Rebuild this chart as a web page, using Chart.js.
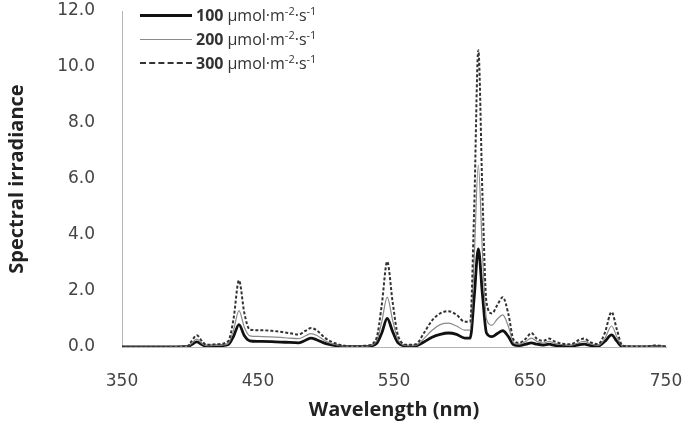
<!DOCTYPE html>
<html>
<head>
<meta charset="utf-8">
<script src="https://cdn.jsdelivr.net/npm/chart.js@4.4.1/dist/chart.umd.min.js"></script>
<style>
  html, body { margin: 0; padding: 0; background: #fff; }
  #wrap { position: relative; width: 692px; height: 426px; }
  #legend { position: absolute; left: 140px; top: 3px; font-family: "Open Sans", sans-serif; color: #333; }
  .row { display: flex; align-items: center; height: 24px; }
  .swatch { width: 52px; height: 0; margin-right: 4px; }
  .row b { font-size: 16px; margin-right: 4px; }
  .row span.unit { font-size: 16px; }
  .row sup { font-size: 11px; }
</style>
</head>
<body>
<div id="wrap">
  <canvas id="spectrum" width="692" height="426"></canvas>
  <div id="legend"></div>
</div>
<script>
(function () {
  "use strict";

  // wavelength samples (nm)
  const wavelengths = [350, 360, 380, 398, 401, 405, 409, 412, 420, 428, 432, 436, 440, 444, 450, 460, 470, 480, 485, 489, 493, 500, 510, 520, 530, 537, 541, 545, 549, 553, 560, 566, 572, 578, 584, 590, 596, 602, 606, 609, 612, 615, 618, 622, 626, 630, 634, 638, 642, 647, 651, 655, 660, 664, 668, 674, 680, 686, 690, 694, 700, 705, 710, 714, 718, 725, 735, 743, 750];

  const irr100 = [0, 0, 0, 0.01, 0.08, 0.18, 0.08, 0.03, 0.04, 0.08, 0.38, 0.8, 0.4, 0.22, 0.2, 0.19, 0.17, 0.15, 0.24, 0.32, 0.26, 0.12, 0.03, 0.01, 0.02, 0.12, 0.5, 1.02, 0.55, 0.15, 0.03, 0.04, 0.18, 0.35, 0.45, 0.5, 0.45, 0.32, 0.32, 1.8, 3.5, 1.9, 0.5, 0.37, 0.48, 0.58, 0.38, 0.08, 0.05, 0.1, 0.15, 0.1, 0.07, 0.1, 0.06, 0.04, 0.03, 0.08, 0.1, 0.06, 0.03, 0.2, 0.43, 0.2, 0.01, 0, 0, 0.02, 0];

  const irr200 = [0, 0, 0, 0.01, 0.12, 0.28, 0.12, 0.05, 0.06, 0.12, 0.6, 1.3, 0.7, 0.4, 0.38, 0.36, 0.33, 0.3, 0.4, 0.48, 0.42, 0.2, 0.05, 0.02, 0.03, 0.2, 0.9, 1.78, 0.95, 0.25, 0.05, 0.06, 0.3, 0.6, 0.8, 0.85, 0.75, 0.6, 0.6, 3.2, 6.5, 3.4, 1.0, 0.78, 1.0, 1.15, 0.75, 0.15, 0.1, 0.2, 0.32, 0.2, 0.14, 0.2, 0.13, 0.08, 0.06, 0.16, 0.2, 0.12, 0.06, 0.3, 0.75, 0.35, 0.03, 0.01, 0.01, 0.04, 0];

  const irr300 = [0, 0, 0, 0.02, 0.2, 0.42, 0.2, 0.08, 0.1, 0.2, 1.0, 2.38, 1.2, 0.62, 0.6, 0.58, 0.52, 0.45, 0.58, 0.68, 0.6, 0.3, 0.08, 0.03, 0.05, 0.3, 1.5, 3.05, 1.6, 0.4, 0.08, 0.1, 0.5, 0.95, 1.2, 1.28, 1.15, 0.9, 0.9, 5.0, 10.6, 5.5, 1.6, 1.2, 1.5, 1.78, 1.2, 0.25, 0.15, 0.3, 0.5, 0.3, 0.22, 0.3, 0.2, 0.12, 0.1, 0.25, 0.3, 0.18, 0.1, 0.5, 1.25, 0.6, 0.05, 0.02, 0.02, 0.06, 0];

  const seriesNames = ["100", "200", "300"];
  const xTicks = [350, 450, 550, 650, 750];
  const yTicks = [0, 2, 4, 6, 8, 10, 12];

  const styles = [
    { color: "#111", width: 2.8, dash: [] },
    { color: "#8a8a8a", width: 1.2, dash: [] },
    { color: "#333", width: 2, dash: [3, 2] },
  ];

  const pts = (vals) => wavelengths.map((w, i) => ({ x: w, y: vals[i] }));
  const allSeries = [irr100, irr200, irr300];

  const datasets = allSeries.map((vals, i) => ({
    label: seriesNames[i],
    data: pts(vals),
    borderColor: styles[i].color,
    borderWidth: styles[i].width,
    borderDash: styles[i].dash,
    pointRadius: 0,
    fill: false,
    tension: 0.3,
    cubicInterpolationMode: "monotone",
  })).reverse();

  const tickFont = { family: "DejaVu Sans", size: 17 };
  const titleFont = { family: "Open Sans", size: 20, weight: "bold" };

  new Chart(document.getElementById("spectrum"), {
    type: "line",
    data: { datasets },
    options: {
      responsive: false,
      animation: false,
      layout: { padding: { left: 0, right: 26, top: 11, bottom: 0 } },
      plugins: { legend: { display: false }, tooltip: { enabled: false } },
      scales: {
        x: {
          type: "linear",
          min: 350,
          max: 750,
          afterBuildTicks(scale) { scale.ticks = xTicks.map((v) => ({ value: v })); },
          afterFit(scale) {
            scale.height = 79;
            scale.paddingLeft = 0;
            scale.paddingRight = 0;
          },
          grid: { display: false, drawTicks: true, tickLength: 8, color: "#b5b5b5" },
          border: { color: "#b5b5b5", width: 1 },
          ticks: { font: tickFont, color: "#444", padding: 16, maxRotation: 0 },
          title: { display: true, text: "Wavelength (nm)", font: titleFont, color: "#222", padding: { top: 0, bottom: 4 } },
        },
        y: {
          min: 0,
          max: 12,
          afterBuildTicks(scale) { scale.ticks = yTicks.map((v) => ({ value: v })); },
          afterFit(scale) {
            scale.width = 122;
            scale.paddingTop = 0;
            scale.paddingBottom = 0;
          },
          grid: { display: false, drawTicks: true, tickLength: 8, color: "#b5b5b5" },
          border: { color: "#b5b5b5", width: 1 },
          ticks: { font: tickFont, color: "#444", padding: 19, callback: (v) => Number(v).toFixed(1) },
          title: { display: true, text: "Spectral irradiance", font: titleFont, color: "#222", padding: { top: 5, bottom: 0 } },
        },
      },
    },
  });

  // legend: line samples with bold dose + unit
  const legend = document.getElementById("legend");
  seriesNames.forEach((name, i) => {
    const row = document.createElement("div");
    row.className = "row";
    const sw = document.createElement("div");
    sw.className = "swatch";
    const s = styles[i];
    sw.style.borderTop = `${Math.round(s.width)}px ${s.dash.length ? "dashed" : "solid"} ${s.color}`;
    row.appendChild(sw);
    const b = document.createElement("b");
    b.textContent = name;
    row.appendChild(b);
    const u = document.createElement("span");
    u.className = "unit";
    u.innerHTML = "μmol·m<sup>-2</sup>·s<sup>-1</sup>";
    row.appendChild(u);
    legend.appendChild(row);
  });
})();
</script>
</body>
</html>
